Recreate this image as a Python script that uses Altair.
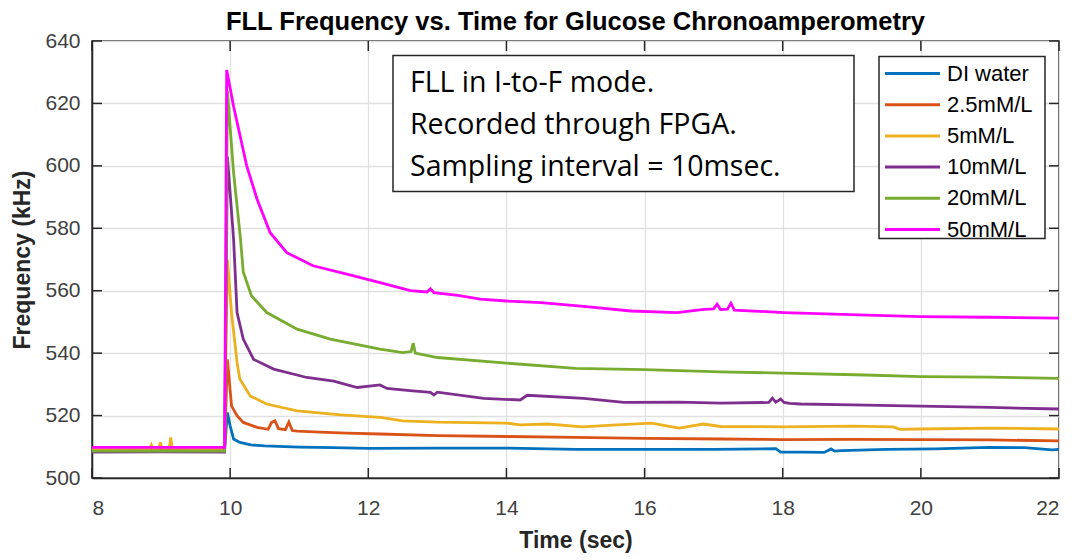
import altair as alt
import pandas as pd

series_names = ["DI water", "2.5mM/L", "5mM/L", "10mM/L", "20mM/L", "50mM/L"]
series_colors = ["#0072BD", "#D95319", "#EDB120", "#7E2F8E", "#77AC30", "#FF00FF"]

di_t = [8.0, 8.5, 9.0, 9.5, 9.92, 9.96, 10.0, 10.05, 10.14, 10.3, 10.5, 11.0, 11.5, 12.0, 13.0, 14.0,
        15.0, 16.0, 17.0, 17.9, 17.97, 18.3, 18.6, 18.7, 18.75, 18.85, 19.5, 20.2, 21.0, 21.5, 21.9, 22.0]
di_f = [509.0, 509.1, 509.0, 509.1, 509.0, 521.0, 516.7, 512.5, 511.4, 510.6, 510.3, 509.9, 509.7, 509.5, 509.6, 509.6,
        509.2, 509.2, 509.2, 509.4, 508.3, 508.3, 508.2, 509.3, 508.6, 508.8, 509.2, 509.3, 509.8, 509.7, 509.0, 509.2]

c25_t = [8.0, 9.0, 9.92, 9.96, 10.02, 10.1, 10.19, 10.39, 10.55, 10.6, 10.65, 10.7, 10.8, 10.85, 10.9, 10.97,
         11.3, 11.69, 12.17, 13.0, 14.0, 15.0, 16.0, 17.1, 18.0, 19.0, 20.0, 21.0, 22.0]
c25_f = [509.4, 509.5, 509.4, 538.0, 523.1, 520.0, 517.8, 516.2, 515.6, 517.8, 518.3, 515.8, 515.5, 517.9, 515.2, 515.0,
         514.7, 514.4, 514.1, 513.6, 513.3, 513.0, 512.7, 512.5, 512.3, 512.4, 512.3, 512.2, 511.9]

c5_t = [8.0, 8.5, 8.84, 8.86, 8.88, 8.97, 8.99, 9.01, 9.12, 9.14, 9.16, 9.5, 9.92, 9.96, 10.02, 10.1, 10.14, 10.29,
        10.53, 10.97, 11.6, 12.17, 12.5, 13.0, 14.0, 14.2, 14.6, 15.1, 15.6, 16.1, 16.5, 16.85, 17.1, 18.0, 19.0,
        19.6, 19.7, 20.0, 21.0, 22.0]
c5_f = [509.4, 509.5, 509.5, 510.6, 509.5, 509.6, 511.4, 509.6, 509.6, 513.0, 509.6, 509.5, 509.5, 570.0, 553.0, 537.0,
        531.7, 526.3, 523.7, 521.5, 520.2, 519.4, 518.3, 517.9, 517.6, 517.0, 517.3, 516.4, 517.0, 517.6, 516.0,
        517.3, 516.5, 516.4, 516.6, 516.4, 515.6, 515.7, 516.0, 515.7]

c10_t = [8.0, 9.0, 9.92, 9.96, 10.05, 10.1, 10.19, 10.34, 10.63, 11.11, 11.5, 11.84, 12.17, 12.27, 12.6, 12.9, 12.95,
         13.0, 13.67, 14.2, 14.3, 15.12, 15.7, 16.5, 17.1, 17.8, 17.85, 17.9, 17.97, 18.02, 18.1, 18.26, 19.0, 20.0,
         21.0, 22.0]
c10_f = [508.3, 508.4, 508.3, 603.0, 576.5, 553.0, 544.5, 538.0, 534.9, 532.2, 531.0, 529.0, 529.8, 528.7, 528.0,
         527.4, 526.6, 527.5, 525.5, 525.0, 526.5, 525.5, 524.2, 524.3, 524.0, 524.2, 525.6, 524.3, 525.3, 524.2,
         523.9, 523.7, 523.4, 523.0, 522.6, 522.1]

c20_t = [8.0, 9.0, 9.92, 9.96, 10.05, 10.15, 10.19, 10.31, 10.53, 10.97, 11.45, 12.17, 12.5, 12.62, 12.65, 12.68,
         13.0, 14.0, 15.0, 16.0, 17.1, 18.0, 19.2, 20.0, 21.0, 22.0]
c20_f = [508.6, 508.6, 508.6, 624.0, 597.8, 576.5, 566.0, 558.3, 553.0, 547.7, 544.5, 541.3, 540.2, 540.5, 543.2,
         540.0, 538.6, 536.8, 535.1, 534.7, 534.0, 533.6, 533.0, 532.5, 532.3, 531.9]

c50_t = [8.0, 9.0, 9.92, 9.95, 10.05, 10.24, 10.39, 10.58, 10.82, 11.2, 11.69, 12.17, 12.61, 12.85, 12.9, 12.95,
         13.3, 13.62, 14.0, 14.5, 15.12, 15.8, 16.47, 16.86, 17.0, 17.05, 17.1, 17.2, 17.25, 17.3, 18.02, 19.23,
         20.0, 21.0, 22.0]
c50_f = [509.8, 509.8, 509.8, 630.7, 619.0, 600.0, 589.3, 578.6, 572.2, 568.0, 565.3, 562.6, 560.0, 559.6, 560.6,
         559.4, 558.5, 557.3, 556.7, 556.2, 555.0, 553.5, 553.0, 554.0, 554.2, 555.7, 554.0, 554.1, 556.0, 553.8,
         553.0, 552.2, 551.7, 551.5, 551.2]

x_ticks = [8, 10, 12, 14, 16, 18, 20, 22]
y_ticks = [500, 520, 540, 560, 580, 600, 620, 640]

note_lines = ["FLL in I-to-F mode.", "Recorded through FPGA.", "Sampling interval = 10msec."]

series_t = [di_t, c25_t, c5_t, c10_t, c20_t, c50_t]
series_f = [di_f, c25_f, c5_f, c10_f, c20_f, c50_f]

rows = []
for name, ts, fs in zip(series_names, series_t, series_f):
    for i, (t, f) in enumerate(zip(ts, fs)):
        rows.append({"series": name, "idx": i, "t": t, "f": f})
df = pd.DataFrame(rows)

W, H = 967, 437
FONT = "Liberation Sans"
XT, YT = "Time (sec)", "Frequency (kHz)"

xscale = alt.Scale(domain=[8, 22], nice=False)
yscale = alt.Scale(domain=[500, 640], nice=False, zero=False)
cscale = alt.Scale(domain=series_names, range=series_colors)

lines = alt.Chart(df).mark_line(strokeWidth=2.8, clip=True).encode(
    x=alt.X("t:Q", scale=xscale, title=XT,
            axis=alt.Axis(values=x_ticks, format="d", title=XT, labelPadding=19, titlePadding=11)),
    y=alt.Y("f:Q", scale=yscale, title=YT,
            axis=alt.Axis(values=y_ticks, format="d", title=YT, labelPadding=12, titlePadding=10)),
    color=alt.Color("series:N", scale=cscale, legend=None),
    order=alt.Order("idx:Q"),
)

xt = pd.DataFrame({"t": x_ticks})
yt = pd.DataFrame({"f": y_ticks})
tick_style = dict(color="#262626", strokeWidth=1.5)

bottom_ticks = alt.Chart(xt).mark_rule(**tick_style).encode(
    x=alt.X("t:Q", scale=xscale, title=XT), y=alt.value(H), y2=alt.value(H - 10))
top_ticks = alt.Chart(xt).mark_rule(**tick_style).encode(
    x=alt.X("t:Q", scale=xscale, title=XT), y=alt.value(0), y2=alt.value(10))
left_ticks = alt.Chart(yt).mark_rule(**tick_style).encode(
    y=alt.Y("f:Q", scale=yscale, title=YT), x=alt.value(0), x2=alt.value(10))
right_ticks = alt.Chart(yt).mark_rule(**tick_style).encode(
    y=alt.Y("f:Q", scale=yscale, title=YT), x=alt.value(W), x2=alt.value(W - 10))

# annotation box
note_box = alt.Chart(pd.DataFrame({"a": [0]})).mark_rect(
    fill="white", stroke="#262626", strokeWidth=1.5).encode(
    x=alt.value(301), x2=alt.value(762), y=alt.value(14.5), y2=alt.value(150.5))

note_df = pd.DataFrame({"txt": note_lines, "py": [51, 93, 135]})
note_text = alt.Chart(note_df).mark_text(
    align="left", baseline="alphabetic", font="Open Sans", fontSize=28.5, color="#000000").encode(
    x=alt.value(318), y=alt.Y("py:Q", scale=None, axis=None), text="txt:N")

# legend (built from the series names / colours)
leg_df = pd.DataFrame({"series": series_names, "ry": [32.5 + 31.2 * i for i in range(6)]})
leg_box = alt.Chart(pd.DataFrame({"a": [0]})).mark_rect(
    fill="white", stroke="#262626", strokeWidth=1.5).encode(
    x=alt.value(787), x2=alt.value(953), y=alt.value(15.5), y2=alt.value(197.5))
leg_lines = alt.Chart(leg_df).mark_rule(strokeWidth=3).encode(
    x=alt.value(793), x2=alt.value(848), y=alt.Y("ry:Q", scale=None, axis=None),
    color=alt.Color("series:N", scale=cscale, legend=None))
leg_text = alt.Chart(leg_df).mark_text(
    align="left", baseline="middle", font=FONT, fontSize=22, color="#000000").encode(
    x=alt.value(855), y=alt.Y("ry:Q", scale=None, axis=None), text="series:N")

chart = alt.layer(
    lines, bottom_ticks, top_ticks, left_ticks, right_ticks, note_box, note_text,
    leg_box, leg_lines, leg_text
).properties(
    width=W, height=H,
    title=alt.TitleParams("FLL Frequency vs. Time for Glucose Chronoamperometry",
                          fontSize=25.5, font=FONT, fontWeight="bold", anchor="middle",
                          color="#000000", offset=-5),
    padding={"left": 92, "top": 41, "right": 24, "bottom": 82},
    autosize=alt.AutoSizeParams(type="none"),
    background="white",
).configure_view(
    stroke="#262626", strokeWidth=1.5
).configure_axis(
    domainColor="#262626", domainWidth=1.5, gridColor="#e0e0e0", gridWidth=1.3,
    ticks=False, labelFont=FONT, labelFontSize=21, labelColor="#404040",
    titleFont=FONT, titleFontSize=23, titleFontWeight="bold", titleColor="#262626",
)

chart.save("out.html", embed_options={"renderer": "svg", "actions": False})
